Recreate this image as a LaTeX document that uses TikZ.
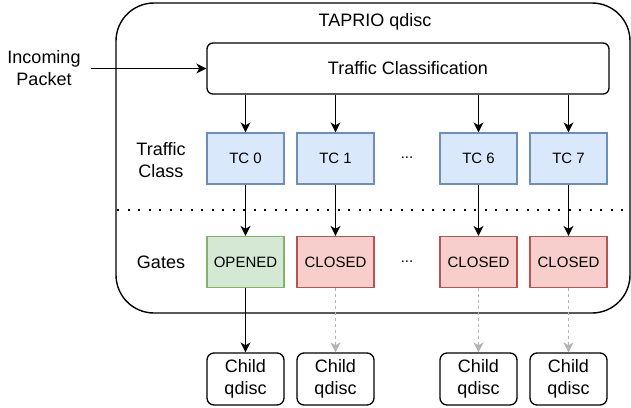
\documentclass[tikz,border=0pt]{standalone}
\usepackage{fontspec}
\setmainfont{Liberation Sans}
\usetikzlibrary{arrows.meta}
\definecolor{bfill}{HTML}{DAE8FC}\definecolor{bdraw}{HTML}{6C8EBF}
\definecolor{gfill}{HTML}{D5E8D4}\definecolor{gdraw}{HTML}{82B366}
\definecolor{rfill}{HTML}{F8CECC}\definecolor{rdraw}{HTML}{B85450}
\definecolor{lgray}{HTML}{B3B3B3}
\begin{document}
\begin{tikzpicture}[x=1pt,y=-1pt,
  big/.style={font=\fontsize{18}{22}\selectfont, align=center},
  small/.style={font=\fontsize{15}{18}\selectfont, align=center},
  box/.style={draw, line width=1.3pt, minimum width=77pt, minimum height=51pt, inner sep=0pt},
  tcbox/.style={box, small, fill=bfill, draw=bdraw},
  openbox/.style={box, small, fill=gfill, draw=gdraw},
  closedbox/.style={box, small, fill=rfill, draw=rdraw},
  childbox/.style={box, big, rounded corners=7pt, minimum height=52pt},
  arr/.style={line width=1.3pt, -{Stealth[length=10pt,width=10pt,inset=3pt]}},
  garr/.style={arr, draw=lgray, dash pattern=on 3.3pt off 2.7pt},
  dotline/.style={line width=2.2pt, dash pattern=on 2pt off 8.5pt},
]
\useasboundingbox (0,0) rectangle (631,407);
% outer container
\node[draw, line width=1.4pt, rounded corners=38pt, minimum width=514pt, minimum height=310pt, inner sep=0pt] (outer) at (373,158) {};
\node[big] (title) at (375,22) {TAPRIO qdisc};
% classification
\node[draw, line width=1.3pt, rounded corners=6pt, minimum width=402pt, minimum height=51pt, big, inner sep=0pt] (tcl) at (408,68.5) {Traffic Classification};
\node[big, inner sep=10pt] (in) at (44,68.5) {Incoming\\Packet};
% labels
\node[big] (tclab) at (161,160) {Traffic\\Class};
\node[big] (glab) at (161,262) {Gates};
\node[small] (dots1) at (407,158) {...};
\node[small] (dots2) at (407,262) {...};
% traffic classes
\node[tcbox] (tc0) at (245.5,158.5) {TC 0};
\node[tcbox] (tc1) at (335.5,158.5) {TC 1};
\node[tcbox] (tc6) at (478.5,158.5) {TC 6};
\node[tcbox] (tc7) at (568.5,158.5) {TC 7};
% gates
\node[openbox] (g0) at (245.5,262) {OPENED};
\node[closedbox] (g1) at (335.5,262) {CLOSED};
\node[closedbox] (g6) at (478.5,262) {CLOSED};
\node[closedbox] (g7) at (568.5,262) {CLOSED};
% children
\node[childbox] (c0) at (245.5,379) {Child\\qdisc};
\node[childbox] (c1) at (335.5,379) {Child\\qdisc};
\node[childbox] (c6) at (478.5,379) {Child\\qdisc};
\node[childbox] (c7) at (568.5,379) {Child\\qdisc};
% dotted separator
\coordinate (dl) at (117,210);
\coordinate (dr) at (631,210);
\draw[dotline] (dl) -- (dr);
% connectors
\draw[arr] (in.east) -- (tcl.west);
\foreach \t in {tc0,tc1,tc6,tc7}{\draw[arr] (\t |- tcl.south) -- (\t.north);}
\draw[arr] (tc0) -- (g0);
\draw[arr] (tc1) -- (g1);
\draw[arr] (tc6) -- (g6);
\draw[arr] (tc7) -- (g7);
\draw[arr] (g0) -- (c0);
\draw[garr] (g1) -- (c1);
\draw[garr] (g6) -- (c6);
\draw[garr] (g7) -- (c7);
\end{tikzpicture}
\end{document}
